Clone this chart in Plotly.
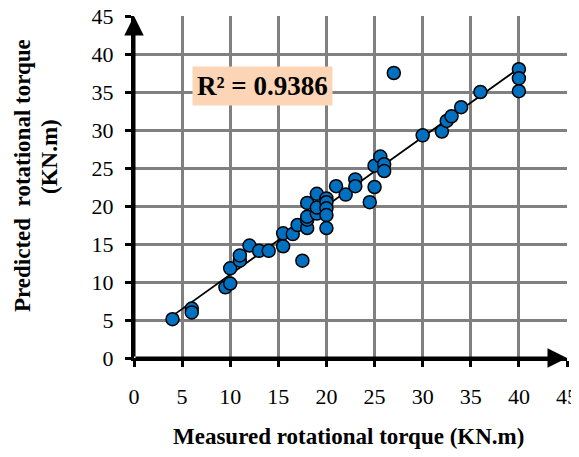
import numpy as np
import plotly.graph_objects as go

measured = [4, 6, 6, 9.5, 10, 10, 11, 11, 12, 13, 14, 15.5, 15.5, 16.5, 17, 17.5,
            18, 18, 18, 18, 19, 19, 19, 20, 20, 20, 20, 20, 21, 22, 23, 23, 24.5,
            25, 25, 25.6, 26, 26, 27, 30, 32, 32.5, 33, 34, 36, 40, 40, 40]
predicted = [5.1, 6.5, 6.0, 9.3, 9.8, 11.8, 12.8, 13.5, 14.8, 14.1, 14.1, 14.7, 16.4,
             16.3, 17.5, 12.8, 17.1, 18.2, 18.6, 20.4, 21.6, 19.0, 19.8, 21.0, 20.5,
             19.7, 18.8, 17.1, 22.6, 21.5, 23.5, 22.6, 20.5, 22.5, 25.3, 26.5, 25.5,
             24.6, 37.5, 29.3, 29.8, 31.2, 31.8, 33.0, 35.0, 38.0, 36.8, 35.1]
r2_text = "R² = 0.9386"
x_ticks = list(range(0, 46, 5))
y_ticks = list(range(0, 46, 5))

slope, intercept = np.polyfit(measured, predicted, 1)
fit_x = [min(measured), max(measured)]
fit_y = [slope * v + intercept for v in fit_x]

FONT = "Liberation Serif"
GRID = "rgb(128,128,128)"

fig = go.Figure()
fig.add_trace(go.Scatter(x=fit_x, y=fit_y, mode="lines",
                         line=dict(color="black", width=1.8), showlegend=False))
fig.add_trace(go.Scatter(x=measured, y=predicted, mode="markers",
                         marker=dict(size=13, color="#0070C0",
                                     line=dict(color="black", width=1.5)),
                         showlegend=False))

axis_common = dict(range=[0, 45], showgrid=True, automargin=False,
                   gridcolor=GRID, gridwidth=3, showline=True,
                   linecolor="black", linewidth=3, ticks="outside",
                   ticklen=6, tickwidth=2.5, tickcolor="black", zeroline=False,
                   ticklabeloverflow="allow",
                   tickfont=dict(family=FONT, size=22, color="black"))
fig.update_xaxes(**axis_common, tickvals=x_ticks, ticklabelstandoff=11)
fig.update_yaxes(**axis_common, tickvals=y_ticks, ticklabelstandoff=7)

# page body has an 8px margin; layout is given in on-screen pixels
OFF = 8
W, H = 579 - OFF, 457 - OFF
PL, PR, PT, PB = 134, 567, 16, 358   # plot area in screen pixels
L, R, T, B = PL - OFF, (W + OFF) - PR, PT - OFF, (H + OFF) - PB
pw, ph = PR - PL, PB - PT


def px(xp):
    return (xp - PL) / pw


def py(yp):
    return (PB - yp) / ph


annotations = [
    # axis lines with arrow heads
    dict(x=45, y=0, ax=0, ay=0, xref="x", yref="y", axref="x", ayref="y",
         showarrow=True, arrowhead=2, arrowsize=1.3, arrowwidth=3,
         arrowcolor="black", text=""),
    dict(x=0, y=45, ax=0, ay=0, xref="x", yref="y", axref="x", ayref="y",
         showarrow=True, arrowhead=2, arrowsize=1.3, arrowwidth=3,
         arrowcolor="black", text=""),
    # R2 box
    dict(x=px(262), y=py(86), xref="paper", yref="paper", showarrow=False,
         text="<b>" + r2_text + "</b>", bgcolor="#FBD5B5", borderpad=4,
         font=dict(family=FONT, size=27, color="black"),
         xanchor="center", yanchor="middle"),
    # x title
    dict(x=px(348), y=py(437), xref="paper", yref="paper", showarrow=False,
         text="<b>Measured rotational torque (KN.m)</b>",
         font=dict(family=FONT, size=23, color="black"),
         xanchor="center", yanchor="middle"),
    # y title
    dict(x=px(22), y=py(175), xref="paper", yref="paper", showarrow=False,
         text="<b>Predicted  rotational torque</b>", textangle=-90,
         font=dict(family=FONT, size=23, color="black"),
         xanchor="center", yanchor="middle"),
    dict(x=px(50), y=py(157), xref="paper", yref="paper", showarrow=False,
         text="<b>(KN.m)</b>", textangle=-90,
         font=dict(family=FONT, size=23, color="black"),
         xanchor="center", yanchor="middle"),
]

fig.update_layout(width=W, height=H, margin=dict(l=L, r=R, t=T, b=B, autoexpand=False),
                  plot_bgcolor="white", paper_bgcolor="white",
                  annotations=annotations, showlegend=False)

fig.write_html("out.html")
